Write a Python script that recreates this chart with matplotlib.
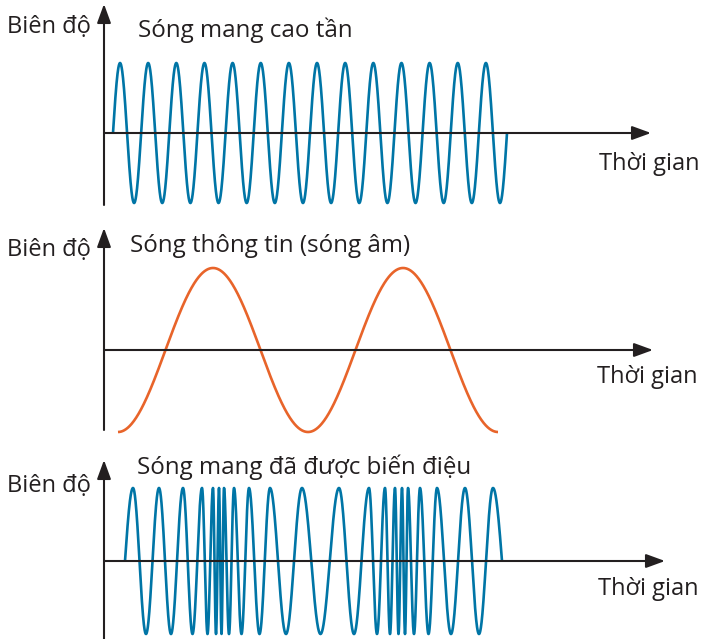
import numpy as np
import matplotlib.pyplot as plt

plt.rcParams['font.family'] = ['Open Sans', 'DejaVu Sans']

W, H = 701, 639
AXIS_COLOR = "#231F20"
BLUE = "#0075A6"
ORANGE = "#E8642A"

# labels
Y_LABEL = "Biên độ"
X_LABEL = "Thời gian"
TITLES = ["Sóng mang cao tần", "Sóng thông tin (sóng âm)", "Sóng mang đã được biến điệu"]

# carrier wave (time measured from the amplitude axis, arbitrary units)
carrier_start, carrier_end = 9, 403
carrier_cycles = 14
carrier_amp = 70

# information (sound) wave, begins at a trough
info_start, info_end = 14, 394
info_cycles = 2
info_amp = 82

# modulated carrier: position of every crest
fm_start, fm_end = 21, 398
fm_peaks = [29, 55, 79, 98, 109, 115, 120, 130, 145, 166, 198,
            235, 265, 281, 291, 298, 304, 316, 333, 361, 389]
fm_amp = 73

fig = plt.figure(figsize=(W / 100, H / 100), dpi=100)


def px(x, y):
    # pixel position (from top-left) -> figure fraction
    return x / W, 1 - y / H


def make_panel(top, zero, bottom, x_tip):
    ax = fig.add_axes([104 / W, 1 - bottom / H, (W - 104) / W, (bottom - top) / H])
    ax.set_xlim(0, W - 104)
    ax.set_ylim(-(bottom - zero), zero - top)
    ax.axis("off")
    arrow = dict(arrowstyle="-|>,head_length=1.15,head_width=0.42", mutation_scale=10,
                 lw=1.5, color=AXIS_COLOR, shrinkA=0, shrinkB=0)
    ax.annotate("", xy=(0, zero - top), xytext=(0, -(bottom - zero)),
                arrowprops=arrow, annotation_clip=False, zorder=3)
    ax.annotate("", xy=(x_tip - 104, 0), xytext=(0, 0),
                arrowprops=arrow, annotation_clip=False, zorder=3)
    return ax


def labels(ylab_base, title_xy, xlab_xy):
    kw = dict(fontsize=17, color=AXIS_COLOR, ha="left", va="baseline")
    fig.text(*px(7, ylab_base), Y_LABEL, **kw)
    fig.text(*px(*title_xy), TITLES.pop(0), **{**kw, "fontsize": 17.4})
    fig.text(*px(*xlab_xy), X_LABEL, **kw)


line_kw = dict(lw=1.9, zorder=2, clip_on=False, solid_capstyle="butt")

# 1) carrier
ax1 = make_panel(4, 133, 205, 651)
t = np.linspace(carrier_start, carrier_end, 2000)
ax1.plot(t, carrier_amp * np.sin(2 * np.pi * carrier_cycles * (t - carrier_start) / (carrier_end - carrier_start)),
         color=BLUE, **line_kw)
labels(33, (138, 37), (599, 170))

# 2) information wave
ax2 = make_panel(228, 350, 430, 653)
t = np.linspace(info_start, info_end, 1000)
ax2.plot(t, -info_amp * np.cos(2 * np.pi * info_cycles * (t - info_start) / (info_end - info_start)),
         color=ORANGE, **line_kw)
labels(256, (130, 252), (597, 383))

# 3) modulated carrier: phase passes through each read crest
ax3 = make_panel(460, 561, 639, 665)
knots_t = [fm_start] + fm_peaks + [fm_end]
knots_ph = [0] + [np.pi / 2 + 2 * np.pi * k for k in range(len(fm_peaks))] \
    + [np.pi * (2 * len(fm_peaks) - 1)]
t = np.linspace(fm_start, fm_end, 4000)
ax3.plot(t, fm_amp * np.sin(np.interp(t, knots_t, knots_ph)),
         color=BLUE, **line_kw)
labels(492, (137, 474), (598, 595))

fig.savefig("out.png", dpi=100)
